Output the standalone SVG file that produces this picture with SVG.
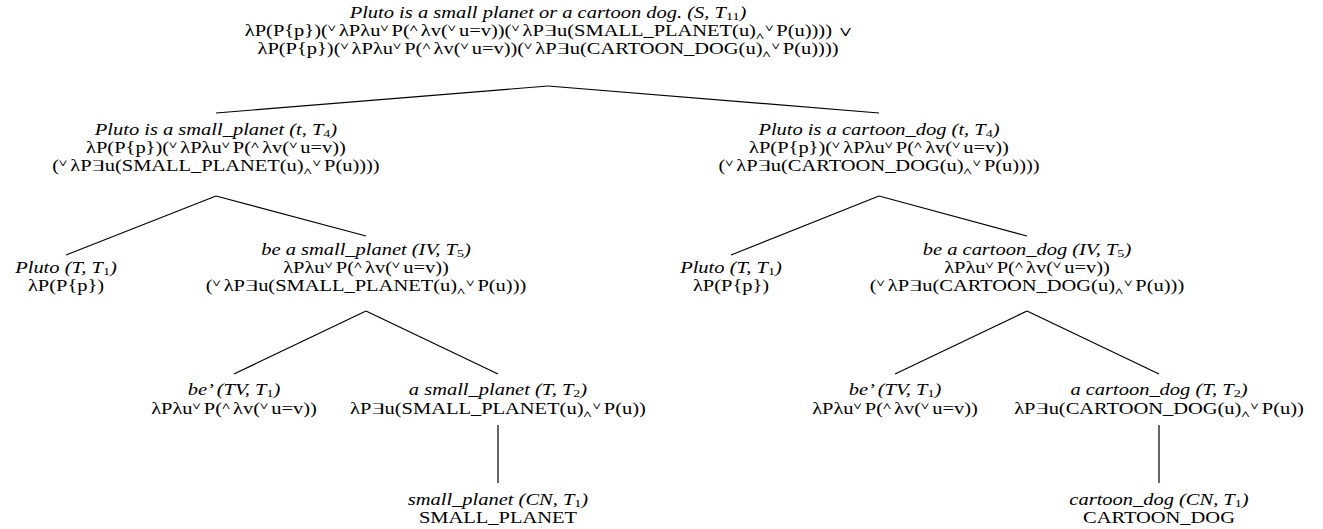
<svg xmlns="http://www.w3.org/2000/svg" width="1323" height="529" viewBox="0 0 1323 529">
<style>
text{font-family:"Liberation Serif","Times New Roman",Tinos,"Nimbus Roman",FreeSerif,"Noto Serif","DejaVu Serif",Times,serif;font-size:16px;fill:#000;text-anchor:middle}
.i{font-style:italic}
.s{font-size:11px;font-style:normal}
.d{font-size:11px;font-style:normal}
.c line{stroke:#000;stroke-width:1.2}
</style>
<rect width="1323" height="529" fill="#fff"/>
<g id="connectors" class="c">
<line x1="548" y1="86" x2="216" y2="113"/>
<line x1="548" y1="86" x2="879" y2="113"/>
<line x1="216" y1="196" x2="66" y2="255"/>
<line x1="216" y1="196" x2="366" y2="236"/>
<line x1="879" y1="196" x2="731" y2="255"/>
<line x1="879" y1="196" x2="1027" y2="236"/>
<line x1="366" y1="311" x2="234" y2="374"/>
<line x1="366" y1="311" x2="498" y2="374"/>
<line x1="1027" y1="311" x2="895" y2="374"/>
<line x1="1027" y1="311" x2="1159" y2="374"/>
<line x1="498" y1="425" x2="498" y2="483"/>
<line x1="1159" y1="425" x2="1159" y2="483"/>
</g>
<g id="root" transform="scale(1.28 1)">
<text class="i" x="428.13" y="18">Pluto is a small planet or a cartoon dog. (S, T<tspan class="d" dy="2.5">11</tspan><tspan dy="-2.5">)</tspan></text>
<text x="428.13" y="36">λP(P{p})(<tspan class="s" dy="-5">∨</tspan><tspan dy="5" dx="2.5">λPλu</tspan><tspan class="s" dy="-5">∨</tspan><tspan dy="5" dx="2.5">P(</tspan><tspan class="s" dy="-5">∧</tspan><tspan dy="5" dx="2.5">λv(</tspan><tspan class="s" dy="-5">∨</tspan><tspan dy="5" dx="2.5">u=v))(</tspan><tspan class="s" dy="-5">∨</tspan><tspan dy="5" dx="2.5">λP∃u(SMALL_PLANET(u)</tspan><tspan class="s" dy="3">∧</tspan><tspan class="s" dy="-8" dx="1">∨</tspan><tspan dy="5" dx="2.5">P(u))))</tspan><tspan dx="6">∨</tspan></text>
<text x="428.13" y="54">λP(P{p})(<tspan class="s" dy="-5">∨</tspan><tspan dy="5" dx="2.5">λPλu</tspan><tspan class="s" dy="-5">∨</tspan><tspan dy="5" dx="2.5">P(</tspan><tspan class="s" dy="-5">∧</tspan><tspan dy="5" dx="2.5">λv(</tspan><tspan class="s" dy="-5">∨</tspan><tspan dy="5" dx="2.5">u=v))(</tspan><tspan class="s" dy="-5">∨</tspan><tspan dy="5" dx="2.5">λP∃u(CARTOON_DOG(u)</tspan><tspan class="s" dy="3">∧</tspan><tspan class="s" dy="-8" dx="1">∨</tspan><tspan dy="5" dx="2.5">P(u))))</tspan></text>
</g>
<g id="n-small-planet-t" transform="scale(1.28 1)">
<text class="i" x="168.75" y="135">Pluto is a small_planet (t, T<tspan class="d" dy="2.5">4</tspan><tspan dy="-2.5">)</tspan></text>
<text x="168.75" y="153">λP(P{p})(<tspan class="s" dy="-5">∨</tspan><tspan dy="5" dx="2.5">λPλu</tspan><tspan class="s" dy="-5">∨</tspan><tspan dy="5" dx="2.5">P(</tspan><tspan class="s" dy="-5">∧</tspan><tspan dy="5" dx="2.5">λv(</tspan><tspan class="s" dy="-5">∨</tspan><tspan dy="5" dx="2.5">u=v))</tspan></text>
<text x="168.75" y="171">(<tspan class="s" dy="-5">∨</tspan><tspan dy="5" dx="2.5">λP∃u(SMALL_PLANET(u)</tspan><tspan class="s" dy="3">∧</tspan><tspan class="s" dy="-8" dx="1">∨</tspan><tspan dy="5" dx="2.5">P(u))))</tspan></text>
</g>
<g id="n-cartoon-dog-t" transform="scale(1.28 1)">
<text class="i" x="686.72" y="135">Pluto is a cartoon_dog (t, T<tspan class="d" dy="2.5">4</tspan><tspan dy="-2.5">)</tspan></text>
<text x="686.72" y="153">λP(P{p})(<tspan class="s" dy="-5">∨</tspan><tspan dy="5" dx="2.5">λPλu</tspan><tspan class="s" dy="-5">∨</tspan><tspan dy="5" dx="2.5">P(</tspan><tspan class="s" dy="-5">∧</tspan><tspan dy="5" dx="2.5">λv(</tspan><tspan class="s" dy="-5">∨</tspan><tspan dy="5" dx="2.5">u=v))</tspan></text>
<text x="686.72" y="171">(<tspan class="s" dy="-5">∨</tspan><tspan dy="5" dx="2.5">λP∃u(CARTOON_DOG(u)</tspan><tspan class="s" dy="3">∧</tspan><tspan class="s" dy="-8" dx="1">∨</tspan><tspan dy="5" dx="2.5">P(u))))</tspan></text>
</g>
<g id="n-pluto-left" transform="scale(1.28 1)">
<text class="i" x="51.56" y="273">Pluto (T, T<tspan class="d" dy="2.5">1</tspan><tspan dy="-2.5">)</tspan></text>
<text x="51.56" y="291">λP(P{p})</text>
</g>
<g id="n-be-small-planet" transform="scale(1.28 1)">
<text class="i" x="285.94" y="255">be a small_planet (IV, T<tspan class="d" dy="2.5">5</tspan><tspan dy="-2.5">)</tspan></text>
<text x="285.94" y="273">λPλu<tspan class="s" dy="-5">∨</tspan><tspan dy="5" dx="2.5">P(</tspan><tspan class="s" dy="-5">∧</tspan><tspan dy="5" dx="2.5">λv(</tspan><tspan class="s" dy="-5">∨</tspan><tspan dy="5" dx="2.5">u=v))</tspan></text>
<text x="285.94" y="291">(<tspan class="s" dy="-5">∨</tspan><tspan dy="5" dx="2.5">λP∃u(SMALL_PLANET(u)</tspan><tspan class="s" dy="3">∧</tspan><tspan class="s" dy="-8" dx="1">∨</tspan><tspan dy="5" dx="2.5">P(u)))</tspan></text>
</g>
<g id="n-pluto-right" transform="scale(1.28 1)">
<text class="i" x="571.09" y="273">Pluto (T, T<tspan class="d" dy="2.5">1</tspan><tspan dy="-2.5">)</tspan></text>
<text x="571.09" y="291">λP(P{p})</text>
</g>
<g id="n-be-cartoon-dog" transform="scale(1.28 1)">
<text class="i" x="802.34" y="255">be a cartoon_dog (IV, T<tspan class="d" dy="2.5">5</tspan><tspan dy="-2.5">)</tspan></text>
<text x="802.34" y="273">λPλu<tspan class="s" dy="-5">∨</tspan><tspan dy="5" dx="2.5">P(</tspan><tspan class="s" dy="-5">∧</tspan><tspan dy="5" dx="2.5">λv(</tspan><tspan class="s" dy="-5">∨</tspan><tspan dy="5" dx="2.5">u=v))</tspan></text>
<text x="802.34" y="291">(<tspan class="s" dy="-5">∨</tspan><tspan dy="5" dx="2.5">λP∃u(CARTOON_DOG(u)</tspan><tspan class="s" dy="3">∧</tspan><tspan class="s" dy="-8" dx="1">∨</tspan><tspan dy="5" dx="2.5">P(u)))</tspan></text>
</g>
<g id="n-be-left" transform="scale(1.28 1)">
<text class="i" x="182.81" y="395">be’ (TV, T<tspan class="d" dy="2.5">1</tspan><tspan dy="-2.5">)</tspan></text>
<text x="182.81" y="414">λPλu<tspan class="s" dy="-5">∨</tspan><tspan dy="5" dx="2.5">P(</tspan><tspan class="s" dy="-5">∧</tspan><tspan dy="5" dx="2.5">λv(</tspan><tspan class="s" dy="-5">∨</tspan><tspan dy="5" dx="2.5">u=v))</tspan></text>
</g>
<g id="n-a-small-planet" transform="scale(1.28 1)">
<text class="i" x="389.06" y="395">a small_planet (T, T<tspan class="d" dy="2.5">2</tspan><tspan dy="-2.5">)</tspan></text>
<text x="389.06" y="414">λP∃u(SMALL_PLANET(u)<tspan class="s" dy="3">∧</tspan><tspan class="s" dy="-8" dx="1">∨</tspan><tspan dy="5" dx="2.5">P(u))</tspan></text>
</g>
<g id="n-be-right" transform="scale(1.28 1)">
<text class="i" x="699.22" y="395">be’ (TV, T<tspan class="d" dy="2.5">1</tspan><tspan dy="-2.5">)</tspan></text>
<text x="699.22" y="414">λPλu<tspan class="s" dy="-5">∨</tspan><tspan dy="5" dx="2.5">P(</tspan><tspan class="s" dy="-5">∧</tspan><tspan dy="5" dx="2.5">λv(</tspan><tspan class="s" dy="-5">∨</tspan><tspan dy="5" dx="2.5">u=v))</tspan></text>
</g>
<g id="n-a-cartoon-dog" transform="scale(1.28 1)">
<text class="i" x="905.47" y="395">a cartoon_dog (T, T<tspan class="d" dy="2.5">2</tspan><tspan dy="-2.5">)</tspan></text>
<text x="905.47" y="414">λP∃u(CARTOON_DOG(u)<tspan class="s" dy="3">∧</tspan><tspan class="s" dy="-8" dx="1">∨</tspan><tspan dy="5" dx="2.5">P(u))</tspan></text>
</g>
<g id="n-small-planet-cn" transform="scale(1.28 1)">
<text class="i" x="389.06" y="505">small_planet (CN, T<tspan class="d" dy="2.5">1</tspan><tspan dy="-2.5">)</tspan></text>
<text x="389.06" y="523">SMALL_PLANET</text>
</g>
<g id="n-cartoon-dog-cn" transform="scale(1.28 1)">
<text class="i" x="905.47" y="505">cartoon_dog (CN, T<tspan class="d" dy="2.5">1</tspan><tspan dy="-2.5">)</tspan></text>
<text x="905.47" y="523">CARTOON_DOG</text>
</g>
</svg>
